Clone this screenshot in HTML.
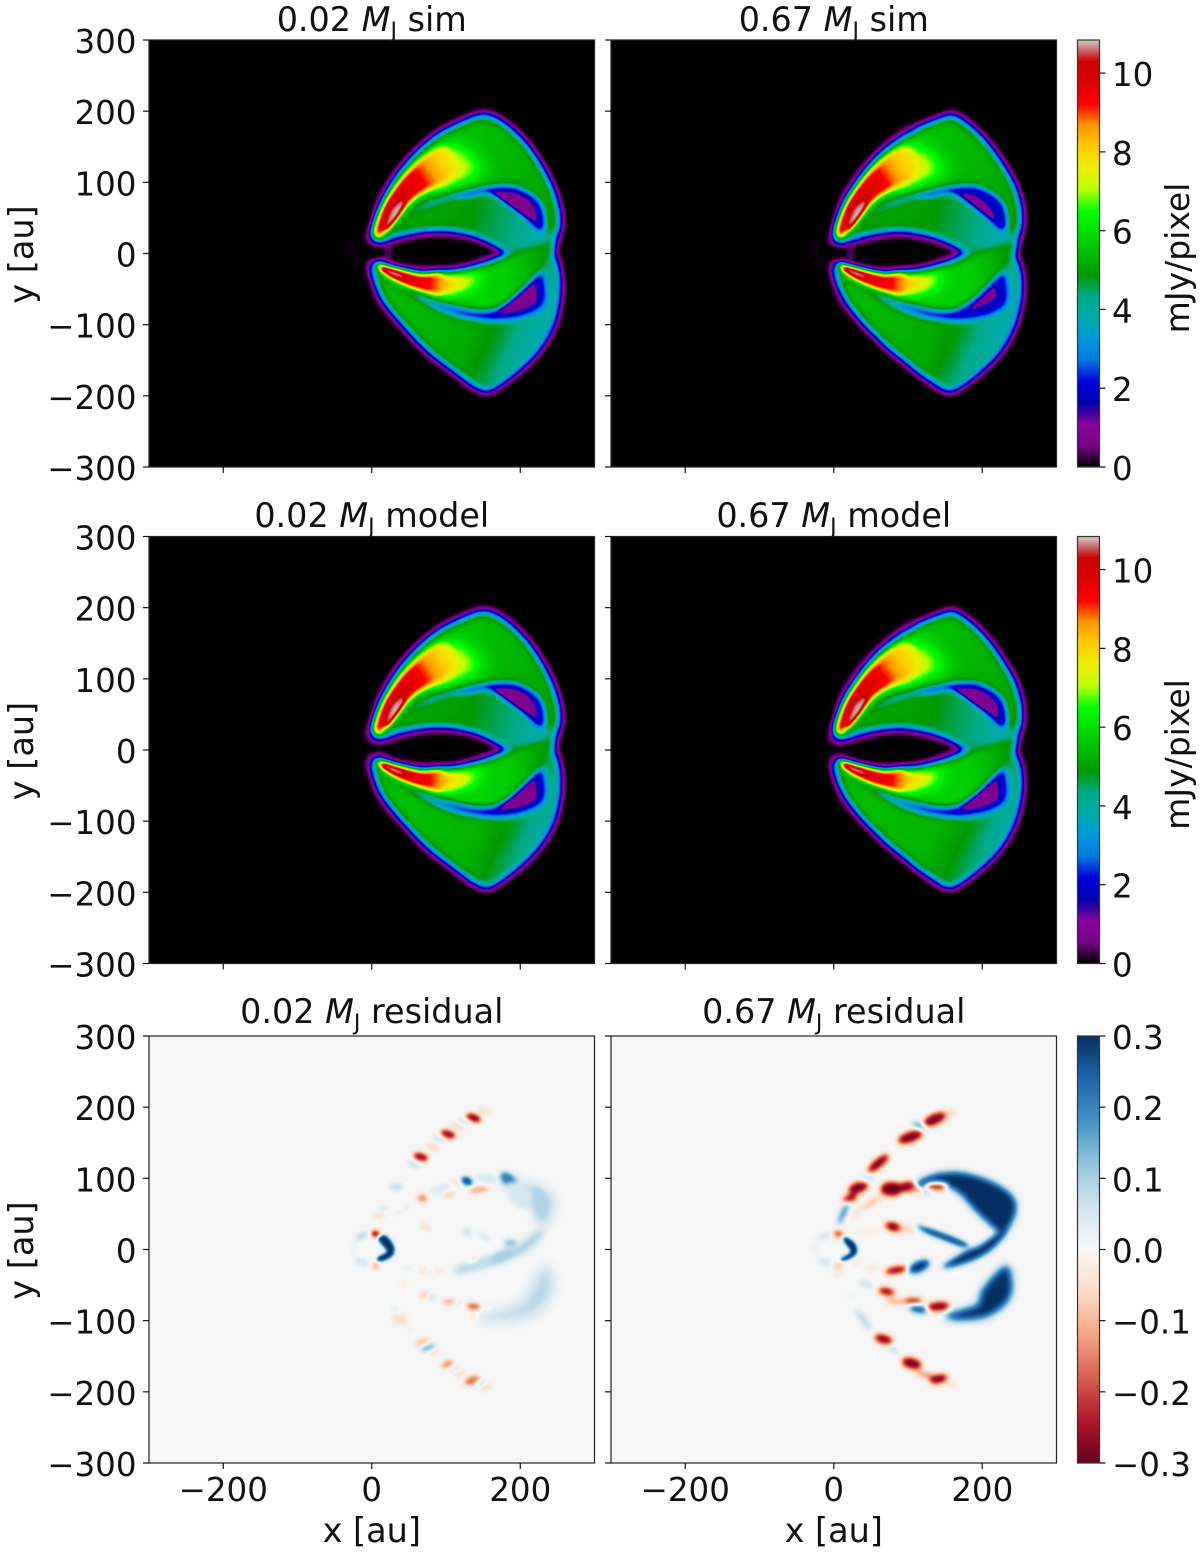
<!DOCTYPE html>
<html lang="en">
<head>
<meta charset="utf-8">
<title>Simulation, model and residual flux maps</title>
<style>
html,body{margin:0;padding:0;background:#fff;}
svg{display:block;}
text{font-family:"DejaVu Sans","Liberation Sans",sans-serif;fill:#111;}
</style>
</head>
<body>
<svg id="figure" xmlns="http://www.w3.org/2000/svg" width="1200" height="1552" viewBox="0 0 1200 1552"><defs id="defs"></defs></svg>
<script>
/* ---------- axis and colourbar values ---------- */
const xTicks = [-200, 0, 200];
const yTicks = [-300, -200, -100, 0, 100, 200, 300];
const fluxBarTicks = [0, 2, 4, 6, 8, 10];
const residualBarTicks = [-0.3, -0.2, -0.1, 0.0, 0.1, 0.2, 0.3];
const fluxMax = 10.84;
const residualMax = 0.3;

/* nipy_spectral and RdBu colour tables */
const nipyR = [0,.4667,.5333,0,0,0,0,0,0,0,0,0,0,.7333,.9333,1,1,1,.8667,.8,.8];
const nipyG = [0,0,0,0,0,.4667,.6,.6667,.6667,.6,.7333,.8667,1,1,.9333,.8,.6,0,0,0,.8];
const nipyB = [0,.5333,.6,.6667,.8667,.8667,.8667,.6667,.5333,0,0,0,0,0,0,0,0,0,0,0,.8];
const rdbuR = [.404,.698,.839,.957,.992,.969,.82,.573,.263,.129,.02];
const rdbuG = [0,.094,.376,.647,.859,.969,.898,.773,.576,.4,.188];
const rdbuB = [.122,.169,.302,.51,.78,.969,.941,.871,.765,.675,.38];

/* ---------- flux-map contours, in au ---------- */
const bodyOutline = [[-1,24],[7,48],[20,80],[38,113],[61,141],[88,165],[115,181],[142,193],[155,195],[155,195],[173,186],[196,165],[218,137],[236,104],[247,76],[252,52],[250,29],[243,3],[243,3],[250,-18],[252,-51],[245,-93],[223,-135],[191,-168],[155,-193],[155,-193],[137,-184],[110,-163],[74,-135],[43,-97],[20,-65],[5,-37],[-1,-18],[2.5,-12],[14,-11],[29,-20],[70,-26],[110,-25],[146,-15],[187,1],[187,1],[146,22],[110,31],[70,31],[32,22],[16,16],[5,16]];
const bodyOutlineHeavy = [[0,24],[10,52],[22,78],[35,95],[47,116],[67,139],[94,155],[110,165],[114,174],[139,184],[152,192],[161,194],[180,181],[202,158],[224,127],[242,95],[251,62],[249,29],[242,1],[242,1],[250,-27],[251,-55],[242,-97],[220,-140],[188,-172],[157,-193],[157,-193],[143,-186],[141,-182],[112,-163],[103,-154],[72,-130],[65,-121],[40,-93],[20,-62],[5,-37],[0,-18],[4,-13],[13,-14],[31,-22],[67,-27],[108,-25],[143,-15],[182,1],[182,1],[143,20],[108,29],[85,31],[58,28],[29,20],[13,15],[2,15]];
const upperLobe = [[14,66],[43,115],[86,158],[117,175],[155,186],[198,158],[230,111],[244,76],[249,38],[234,29],[227,71],[196,97],[160,99],[110,90],[61,69],[25,34],[10,24]];
const middleRegion = [[34,34],[65,62],[106,78],[160,83],[191,59],[223,34],[238,27],[227,10],[187,6],[146,27],[106,38],[65,38]];
const upperStrip = [[108,80],[128,87],[160,94],[196,93],[226,73],[234,43],[225,31],[196,57],[160,83],[128,80]];
const upperStripTail = [[54,59],[92,79],[110,84],[110,79],[74,66]];
const upperCrescent = [[162,87],[162,87],[196,84],[218,66],[222,44],[222,44],[191,65]];
const upperCrescentThin = [[170,85],[170,85],[193,80],[214,59],[216,47],[216,47],[193,65]];
const centralBand = [[16,-18],[70,-32],[110,-31],[146,-22],[189,-4],[236,17],[243,6],[223,-25],[169,-74],[110,-69],[70,-55],[34,-37]];
const lowerLobe = [[14,-60],[45,-99],[81,-132],[113,-161],[155,-188],[193,-161],[230,-123],[246,-80],[249,-37],[236,-8],[209,-51],[169,-93],[110,-88],[65,-65],[25,-39],[7,-22]];
const lowerStrip = [[54,-56],[92,-69],[160,-79],[218,-32],[232,-30],[234,-69],[209,-88],[169,-95],[128,-90],[92,-79]];
const lowerCrescent = [[169,-84],[169,-84],[219,-40],[219,-40],[221,-67],[196,-81]];
const lowerCrescentThin = [[182,-79],[182,-79],[216,-46],[216,-46],[218,-62],[193,-76]];
const upperArcTail = [[70,120],[100,148],[133,148],[158,120],[150,108],[115,102],[83,92]];
const upperArcHead = [[2.5,29],[11,57],[26,85],[46,113],[73,138],[100,150],[112,118],[83,94],[57,77],[35,53],[17,30],[10.6,22]];
const upperArcCore = [[16,36],[30,64],[45,76],[38,57],[23,36]];
const lowerArcTail = [[80,-32],[110,-30],[155,-25],[150,-44],[110,-55],[80,-52]];
const lowerArcHead = [[8,-15.5],[34,-22.5],[65,-29.6],[95,-31],[95,-54],[70,-53],[38,-41],[16,-28]];
const lowerArcCore = [[16,-20],[40,-30],[44,-35],[18,-25]];

/* flux levels (mJy/pixel) along each region's gradient: [position, flux] */
const upperLobeFlux = [[0,5.6],[1,5.1]];
const middleFlux = [[0,5.05],[.2,4.95],[.43,4.6],[.69,4.3],[.87,3.8],[1,3.5]];
const centralBandFlux = [[0,6.0],[.6,5.7],[.85,5.2],[1,4.8]];
const lowerLobeFluxSim = [[0,5.4],[.45,5.2],[.65,4.7],[.75,4.3],[1,3.4]];
const lowerLobeFluxModel = [[0,5.5],[.5,5.3],[.7,4.8],[.8,4.4],[1,3.6]];
const lowerStripFlux = [[0,3.5],[1,2.0]];
const upperArcFlux = [[0,9.4],[.2,10.2],[.5,9.4],[.58,8.9],[.66,8.4],[.78,7.8],[.9,7.0],[1,6.0]];
const lowerArcFlux = [[0,9.6],[.15,10.3],[.5,9.3],[.6,8.7],[.77,7.8],[.95,6.8],[1,6.2]];
const baseFlux = 4.8;
const stripFlux = 2.0;
const stripTailFlux = 3.6;
const crescentFlux = 0.8;
const coreFlux = 10.84;

/* ---------- residual structures, in au ---------- */
const innerCrescentLow = [[10.6,18],[18,20],[27,11],[31,-1],[27,-10],[16,-16],[7,-16],[9,-10],[20,-3],[14,6],[9,13]];
const innerCrescentHigh = [[14,18],[27,11],[32,-1],[27,-10],[14,-16],[9,-13],[20,-6],[22,-1],[14,11]];
const lowUpperArcBand = [[178,104],[210,91],[236,84],[245,62],[234,34],[222,38],[222,60],[200,82],[178,92]];
const lowEyeBand = [[115,-24],[146,-14],[173,-2],[196,6],[227,29],[231,20],[209,-3],[178,-18],[146,-27],[115,-34]];
const lowLowerBand = [[144,-90],[182,-83],[209,-66],[232,-20],[245,-52],[227,-85],[191,-99],[151,-99]];
const highUpperBand = [[108,91],[134,106],[170,109],[211,97],[241,76],[246,52],[230,21],[217,28],[192,52],[168,79],[148,87],[117,80]];
const highEyeWedge = [[112,34],[143,25],[179,9],[175,3],[143,15],[121,25]];
const highEyeBand = [[148,-22],[179,-1],[197,6],[229,29],[226,13],[204,-7],[179,-19],[152,-26]];
const highLowerBand = [[150,-92],[188,-79],[195,-74],[200,-55],[231,-22],[241,-43],[236,-72],[207,-95],[166,-100]];

/* [x, y, radius-x, radius-y, angle, residual] */
const lowMassBlobs = [
[137,185,9,5,-20,-.28],[152,194,9,3,-20,-.06],[126,180,9,3,-20,.07],[115,173,8,3,-20,-.07],
[103,162,9,5,-20,-.27],[91,155,8,3,-20,.07],[82,144,8,4,-20,-.06],[66,130,9,5,-15,-.27],
[57,120,8,4,-20,.07],[33,88,7,4,-5,.09],[43,101,5,2,-5,-.03],[15,57,7,2,10,.07],[10,48,7,4,0,-.05],
[5,22,5,4,0,-.3],[5,-23,4,4,0,-.13],[68,72,6,5,-10,-.14],[45,58,5,2,20,.05],[37,52,5,2,20,-.05],
[104,77,7,3,0,-.09],[115,93,8,3,-30,-.06],[128,96,7,5,-25,.28],[144,84,12,4,5,-.12],[92,84,13,5,20,.04],
[155,100,13,5,-10,.05],[184,98,11,7,-40,.2],[207,83,12,5,-30,.07],[200,75,20,12,-40,.05],[72,31,7,3,-30,-.06],[128,25,6,3,-40,.08],[151,18,8,3,-30,.05],
[187,9,8,5,0,.12],[175,-10,14,5,25,.1],[150,-20,12,4,20,.07],[137,-14,2,7,-60,-.06],[90,-29,6,3,0,-.04],[68,-29,5,3,30,-.05],[47,-26,5,2,-10,.05],
[77,-31,3,2,30,.05],[43,-48,6,2,-15,-.05],[70,-64,6,3,30,-.1],[81,-67,5,3,30,.07],[104,-73,8,3,0,-.13],
[115,-76,5,2,25,.05],[137,-80,8,4,-5,-.19],[157,-83,4,2,20,-.04],[137,-94,3,4,-30,-.05],[38,-98,9,6,-10,-.06],
[32,-84,6,2,-20,.05],[52,-113,4,2,-20,.03],[68,-130,9,4,20,-.09],[76,-138,9,4,20,.14],[84,-144,7,3,20,-.06],
[102,-161,8,4,20,-.15],[112,-167,7,3,20,.05],[119,-174,7,3,20,-.05],[135,-184,9,5,20,-.17],[146,-188,6,3,20,.06],
[154,-194,7,3,20,-.07],[-13,19,8,3,18,.11],[-13,-18,8,4,-18,.07],[-24,2,3,10,0,.02],[225,65,8,20,10,.09]];
const highMassBlobs = [
[136,183,13,6,25,-.4],[157,192,6,3,15,-.1],[116,173,9,2,-28,.3],[103,158,14,6,20,-.4],[60,121,14,5,40,-.38],
[44,99,7,2,10,.16],[33,87,11,6,18,-.4],[22,72,8,4,15,-.33],[13,51,13,3,65,.22],[6,22,5,3,0,-.33],[6,-23,4,3,0,-.15],
[29,-19,5,2,15,-.07],[51,-26,6,3,20,-.08],[6,-36,6,2,10,-.06],[78,85,12,8,0,-.4],[101,88,9,6,-5,-.4],[112,83,8,4,-10,-.15],
[51,66,14,3,30,-.11],[29,50,10,2,45,-.08],[138,88,12,4,0,-.38],[80,32,9,5,-15,-.38],[98,28,8,3,-15,-.1],[44,25,16,2,5,-.04],
[115,-24,12,6,25,.4],[84,-29,12,4,10,-.38],[53,-26,6,3,20,-.05],[44,-49,8,2,-25,.11],[71,-59,9,4,-10,-.38],[83,-73,10,3,-3,-.14],
[107,-72,10,3,0,-.36],[114,-84,10,4,-10,.28],[141,-80,12,5,5,-.4],[40,-99,13,3,-55,.11],[22,-67,4,2,-10,.03],
[67,-126,10,5,-15,-.38],[80,-141,6,3,-30,.08],[105,-160,11,6,-15,-.33],[123,-176,10,3,-10,-.16],[141,-182,10,5,12,-.4],
[159,-190,6,2,15,-.07],[-12,19,7,2,18,.09],[-12,-18,6,3,-18,.08],[-25,2,3,10,0,.03]];

/* ---------- scene helpers ---------- */
const SVGNS = 'http://www.w3.org/2000/svg';
const svg = document.getElementById('figure');
const defs = document.getElementById('defs');
const panelLeft = [149, 611];
const panelTop = [40, 536.5, 1036];
const titleBaseline = [31, 527, 1023];
const panelWidth = 445.5;
const panelHeight = 427;
function xScale(p, au){ return p.x + (au + 300) / 600 * panelWidth; }
function yScale(p, au){ return p.y + (300 - au) / 600 * panelHeight; }
function fluxGray(v){ const g = Math.round(Math.max(0, Math.min(1, v / fluxMax)) * 255); return 'rgb(' + g + ',' + g + ',' + g + ')'; }
function resGray(v){ const g = Math.round(Math.max(0, Math.min(1, (v + residualMax) / (2 * residualMax))) * 255); return 'rgb(' + g + ',' + g + ',' + g + ')'; }
function node(tag, parent){ const e = document.createElementNS(SVGNS, tag); parent.appendChild(e); return e; }
function smoothPath(p, pts){
  const q = pts.map(a => [xScale(p, a[0]), yScale(p, a[1])]);
  const n = q.length;
  let d = 'M' + q[0][0].toFixed(1) + ' ' + q[0][1].toFixed(1);
  for (let i = 0; i < n; i++){
    const a = q[(i - 1 + n) % n], b = q[i], c = q[(i + 1) % n], e = q[(i + 2) % n];
    d += 'C' + (b[0] + (c[0] - a[0]) / 6).toFixed(1) + ' ' + (b[1] + (c[1] - a[1]) / 6).toFixed(1) + ' ' +
         (c[0] - (e[0] - b[0]) / 6).toFixed(1) + ' ' + (c[1] - (e[1] - b[1]) / 6).toFixed(1) + ' ' +
         c[0].toFixed(1) + ' ' + c[1].toFixed(1);
  }
  return d + 'Z';
}
function blurFor(p, sigma){
  const id = 'blur-' + p.id + '-' + String(sigma).replace('.', '_');
  if (!document.getElementById(id)){
    const f = node('filter', defs);
    f.setAttribute('id', id);
    f.setAttribute('filterUnits', 'userSpaceOnUse');
    f.setAttribute('x', p.x); f.setAttribute('y', p.y);
    f.setAttribute('width', panelWidth); f.setAttribute('height', panelHeight);
    f.setAttribute('color-interpolation-filters', 'sRGB');
    const b = node('feGaussianBlur', f);
    b.setAttribute('stdDeviation', sigma);
  }
  return 'url(#' + id + ')';
}
function colormapFilter(p, r, g, b){
  const id = 'cmap-' + p.id;
  const f = node('filter', defs);
  f.setAttribute('id', id);
  f.setAttribute('filterUnits', 'userSpaceOnUse');
  f.setAttribute('x', p.x); f.setAttribute('y', p.y);
  f.setAttribute('width', panelWidth); f.setAttribute('height', panelHeight);
  f.setAttribute('color-interpolation-filters', 'sRGB');
  const t = node('feComponentTransfer', f);
  [['feFuncR', r], ['feFuncG', g], ['feFuncB', b]].forEach(c => {
    const fn = node(c[0], t);
    fn.setAttribute('type', 'table');
    fn.setAttribute('tableValues', c[1].join(' '));
  });
  return 'url(#' + id + ')';
}
let gradCount = 0;
function valueGradient(p, from, to, stops, toGray){
  const id = 'grad-' + (gradCount++);
  const g = node('linearGradient', defs);
  g.setAttribute('id', id);
  g.setAttribute('gradientUnits', 'userSpaceOnUse');
  g.setAttribute('x1', xScale(p, from[0])); g.setAttribute('y1', yScale(p, from[1]));
  g.setAttribute('x2', xScale(p, to[0])); g.setAttribute('y2', yScale(p, to[1]));
  stops.forEach(s => {
    const st = node('stop', g);
    st.setAttribute('offset', s[0]);
    st.setAttribute('stop-color', toGray(s[1]));
  });
  return 'url(#' + id + ')';
}
function layer(parent, p, pts, sigma, fill, name){
  const el = node('path', parent);
  
  
  el.setAttribute('d', smoothPath(p, pts));
  el.setAttribute('fill', fill);
  el.setAttribute('filter', blurFor(p, sigma));
  return el;
}
function ellipseMark(parent, p, cx, cy, rx, ry, angle, fill, name){
  const el = node('ellipse', parent);
  
  
  const px = xScale(p, cx), py = yScale(p, cy);
  el.setAttribute('cx', px); el.setAttribute('cy', py);
  el.setAttribute('rx', rx * panelWidth / 600); el.setAttribute('ry', ry * panelHeight / 600);
  el.setAttribute('transform', 'rotate(' + (-angle) + ' ' + px + ' ' + py + ')');
  el.setAttribute('fill', fill);
  return el;
}

/* ---------- image panels ---------- */
function drawFlux(p, o){
  const g = node('g', svg);
  
  
  g.setAttribute('filter', colormapFilter(p, nipyR, nipyG, nipyB));
  const bg = node('rect', g);
  
  
  bg.setAttribute('x', p.x); bg.setAttribute('y', p.y);
  bg.setAttribute('width', panelWidth); bg.setAttribute('height', panelHeight);
  bg.setAttribute('fill', '#000');
  if (o.planet){
    const halo = ellipseMark(g, p, -5, 1, 28, 16, 0, fluxGray(.14), 'planet-halo');
    halo.setAttribute('filter', blurFor(p, 5));
  }
  layer(g, p, o.outline, 4.2, fluxGray(baseFlux), 'gas-body');
  layer(g, p, upperLobe, 5, valueGradient(p, [100, 100], [245, 60], upperLobeFlux, fluxGray), 'upper-lobe');
  layer(g, p, middleRegion, 4, valueGradient(p, [100, 50], [240, 20], middleFlux, fluxGray), 'middle-region');
  layer(g, p, upperStripTail, 3, fluxGray(stripTailFlux), 'upper-strip-tail');
  layer(g, p, upperStrip, 2.5, fluxGray(stripFlux), 'upper-strip');
  layer(g, p, o.upperCrescent, 1.5, fluxGray(crescentFlux), 'upper-crescent');
  layer(g, p, lowerLobe, 5, valueGradient(p, [60, -70], [230, -150], o.lowerFlux, fluxGray), 'lower-lobe');
  layer(g, p, lowerStrip, 3, valueGradient(p, [54, -60], [130, -80], lowerStripFlux, fluxGray), 'lower-strip');
  layer(g, p, o.lowerCrescent, 1.5, fluxGray(crescentFlux), 'lower-crescent');
  layer(g, p, centralBand, 3.5, valueGradient(p, [100, -30], [240, 0], centralBandFlux, fluxGray), 'central-band');
  const upperArcFill = valueGradient(p, [10, 28], [150, 125], upperArcFlux, fluxGray);
  layer(g, p, upperArcTail, 8, upperArcFill, 'upper-arc-tail');
  layer(g, p, upperArcHead, 3, upperArcFill, 'upper-bright-arc');
  layer(g, p, upperArcCore, 2.5, fluxGray(coreFlux), 'upper-arc-core');
  const lowerArcFill = valueGradient(p, [10, -20], [146, -30], lowerArcFlux, fluxGray);
  layer(g, p, lowerArcTail, 5, lowerArcFill, 'lower-arc-tail');
  layer(g, p, lowerArcHead, 2.5, lowerArcFill, 'lower-bright-arc');
  layer(g, p, lowerArcCore, 1.5, fluxGray(coreFlux), 'lower-arc-core');
  if (o.planet){
    const glow = ellipseMark(g, p, 22, 1, 3, 14, 0, fluxGray(.7), 'gap-glow');
    glow.setAttribute('filter', blurFor(p, 3));
    const hole = ellipseMark(g, p, -4, 1, 20, 9, 0, fluxGray(0), 'planet-hole');
    hole.setAttribute('filter', blurFor(p, 2));
  }
}
function drawResidual(p, o){
  const g = node('g', svg);
  
  
  g.setAttribute('filter', colormapFilter(p, rdbuR, rdbuG, rdbuB));
  const bg = node('rect', g);
  
  
  bg.setAttribute('x', p.x); bg.setAttribute('y', p.y);
  bg.setAttribute('width', panelWidth); bg.setAttribute('height', panelHeight);
  bg.setAttribute('fill', resGray(0));
  o.bands.forEach(b => layer(g, p, b[0], b[1], resGray(b[2]), 'residual-band'));
  const chain = node('g', g);
  
  
  chain.setAttribute('filter', blurFor(p, o.sigma));
  o.blobs.forEach(b => ellipseMark(chain, p, b[0], b[1], b[2] * o.spread, b[3] * o.spread, b[4], resGray(b[5]), 'residual-blob'));
  layer(g, p, o.crescent, 1.5, resGray(.4), 'inner-crescent');
}

/* ---------- axes ---------- */
function addText(str, x, y, anchor, name, size){
  const t = node('text', svg);
  
  
  t.setAttribute('x', x); t.setAttribute('y', y);
  t.setAttribute('font-size', size);
  t.setAttribute('text-anchor', anchor);
  t.textContent = str;
  return t;
}
function tickLine(x1, y1, x2, y2, name){
  const l = node('line', svg);
  
  
  l.setAttribute('x1', x1); l.setAttribute('y1', y1);
  l.setAttribute('x2', x2); l.setAttribute('y2', y2);
  l.setAttribute('stroke', '#111');
  l.setAttribute('stroke-width', '1.2');
}
function fmt(v){ return String(v).replace('-', '\u2212'); }
function drawAxes(p, col, row, mass, kind){
  const frame = node('rect', svg);
  
  
  frame.setAttribute('x', p.x); frame.setAttribute('y', p.y);
  frame.setAttribute('width', panelWidth); frame.setAttribute('height', panelHeight);
  frame.setAttribute('fill', 'none');
  frame.setAttribute('stroke', '#222');
  frame.setAttribute('stroke-width', '1.2');
  yTicks.forEach(v => {
    const y = yScale(p, v);
    tickLine(p.x - 6, y, p.x, y, 'y-tick');
    if (col === 0) addText(fmt(v), 136.5, y + 13, 'end', 'y-tick-label', 32.5);
  });
  xTicks.forEach(v => {
    const x = xScale(p, v);
    tickLine(x, p.y + panelHeight, x, p.y + panelHeight + 6, 'x-tick');
    if (row === 2) addText(fmt(v), x, 1501, 'middle', 'x-tick-label', 32.5);
  });
  if (col === 0){
    const yl = addText('y [au]', 0, 0, 'middle', 'y-axis-title', 33.5);
    yl.setAttribute('transform', 'translate(33 ' + (p.y + panelHeight / 2 + 1) + ') rotate(-90)');
  }
  if (row === 2) addText('x [au]', p.x + panelWidth / 2, 1542, 'middle', 'x-axis-title', 33.5);
  const title = addText('', p.x + panelWidth / 2, titleBaseline[row], 'middle', 'panel-title', 33.4);
  const a = node('tspan', title); a.textContent = mass + ' ';
  const b = node('tspan', title); b.setAttribute('font-style', 'italic'); b.textContent = 'M';
  const c = node('tspan', title); c.setAttribute('dy', '7'); c.setAttribute('font-size', '22'); c.textContent = 'J';
  const d = node('tspan', title); d.setAttribute('dy', '-7'); d.textContent = ' ' + kind;
}
function drawColorbar(top, r, g, b, ticks, lo, hi, label, suffix){
  const id = 'bar-grad-' + suffix;
  const gr = node('linearGradient', defs);
  gr.setAttribute('id', id);
  gr.setAttribute('x1', '0'); gr.setAttribute('y1', '1'); gr.setAttribute('x2', '0'); gr.setAttribute('y2', '0');
  r.forEach((_, i) => {
    const s = node('stop', gr);
    s.setAttribute('offset', i / (r.length - 1));
    s.setAttribute('stop-color', 'rgb(' + Math.round(r[i] * 255) + ',' + Math.round(g[i] * 255) + ',' + Math.round(b[i] * 255) + ')');
  });
  const bar = node('rect', svg);
  
  
  bar.setAttribute('x', 1077.5); bar.setAttribute('y', top);
  bar.setAttribute('width', 22); bar.setAttribute('height', panelHeight);
  bar.setAttribute('fill', 'url(#' + id + ')');
  bar.setAttribute('stroke', '#333');
  bar.setAttribute('stroke-width', '1.2');
  ticks.forEach(v => {
    const y = top + panelHeight - (v - lo) / (hi - lo) * panelHeight;
    tickLine(1099.5, y, 1105.5, y, 'colorbar-tick');
    addText(fmt(hi > 1 ? v : v.toFixed(1)), 1112, y + 13, 'start', 'colorbar-tick-label', 32.5);
  });
  if (label){
    const t = addText(label, 0, 0, 'middle', 'colorbar-title', 33);
    t.setAttribute('transform', 'translate(1189 ' + (top + 218) + ') rotate(-90)');
  }
}

/* ---------- assemble ---------- */
const sheet = node('rect', svg);


sheet.setAttribute('width', 1200); sheet.setAttribute('height', 1552); sheet.setAttribute('fill', '#fff');

function panelAt(col, row){ return {id: 'p' + col + row, x: panelLeft[col], y: panelTop[row]}; }

drawFlux(panelAt(0, 0), {name: 'low-mass-sim', outline: bodyOutline, upperCrescent: upperCrescent, lowerCrescent: lowerCrescent, lowerFlux: lowerLobeFluxSim, planet: true});
drawFlux(panelAt(1, 0), {name: 'high-mass-sim', outline: bodyOutlineHeavy, upperCrescent: upperCrescentThin, lowerCrescent: lowerCrescentThin, lowerFlux: lowerLobeFluxSim, planet: true});
drawFlux(panelAt(0, 1), {name: 'low-mass-model', outline: bodyOutline, upperCrescent: upperCrescent, lowerCrescent: lowerCrescent, lowerFlux: lowerLobeFluxModel, planet: false});
drawFlux(panelAt(1, 1), {name: 'high-mass-model', outline: bodyOutlineHeavy, upperCrescent: upperCrescent, lowerCrescent: lowerCrescent, lowerFlux: lowerLobeFluxModel, planet: false});
drawResidual(panelAt(0, 2), {name: 'low-mass-residual', blobs: lowMassBlobs, sigma: 2.5, spread: 1.2, crescent: innerCrescentLow,
  bands: [[lowUpperArcBand, 6, .11], [lowEyeBand, 3.5, .1], [lowLowerBand, 6, .09]]});
drawResidual(panelAt(1, 2), {name: 'high-mass-residual', blobs: highMassBlobs, sigma: 3, spread: 1.3, crescent: innerCrescentHigh,
  bands: [[highUpperBand, 3.5, .45], [highEyeWedge, 2.5, .28], [highEyeBand, 3, .45], [highLowerBand, 4, .45]]});

[0, 1, 2].forEach(row => {
  const kinds = ['sim', 'model', 'residual'];
  drawAxes(panelAt(0, row), 0, row, '0.02', kinds[row]);
  drawAxes(panelAt(1, row), 1, row, '0.67', kinds[row]);
});
drawColorbar(panelTop[0], nipyR, nipyG, nipyB, fluxBarTicks, 0, fluxMax, 'mJy/pixel', 'sim');
drawColorbar(panelTop[1], nipyR, nipyG, nipyB, fluxBarTicks, 0, fluxMax, 'mJy/pixel', 'model');
drawColorbar(panelTop[2], rdbuR, rdbuG, rdbuB, residualBarTicks, -residualMax, residualMax, '', 'residual');
</script>
</body>
</html>
